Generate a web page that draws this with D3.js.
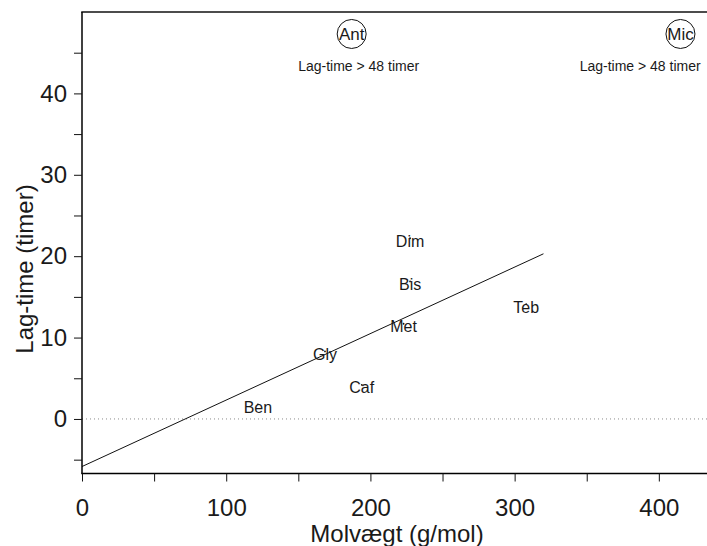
<!DOCTYPE html>
<html>
<head>
<meta charset="utf-8">
<script src="https://cdn.jsdelivr.net/npm/d3@7/dist/d3.min.js"></script>
<style>
  html, body { margin: 0; padding: 0; background: #fff; }
  svg { display: block; }
  text { font-family: "Liberation Sans", Arial, sans-serif; fill: #1a1a1a; }
</style>
</head>
<body>
<svg id="chart" width="707" height="546"></svg>
<script>
// Substances with measured lag-time (hours) versus molecular weight (g/mol)
const names = ["Ben", "Gly", "Caf", "Met", "Bis", "Dim", "Teb"];
const molWeights = [122, 168.5, 194, 223, 227.5, 227.5, 308];
const lagTimes = [1.8, 8.3, 4.2, 11.7, 16.9, 22.2, 14.1];

// Substances whose lag-time exceeded the 48 h test window
const censoredNames = ["Ant", "Mic"];
const censoredWeights = [187, 415];
const censoredNote = "Lag-time > 48 timer";
const censoredLevel = 47.3;

// Least-squares line through the measured substances, drawn from 0 to fitEnd
const fitEnd = 320;

const xTicks = [0, 100, 200, 300, 400];
const xMinorTicks = [50, 150, 250, 350];
const yTicks = [0, 10, 20, 30, 40];
const yMinorTicks = [-5, 5, 15, 25, 35, 45];

const svg = d3.select("#chart");
const plotLeft = 82, plotRight = 707, plotTop = 12, plotBottom = 473.5;

const x = d3.scaleLinear().domain([0, 433.4]).range([plotLeft, plotRight]);
const y = d3.scaleLinear().domain([-6.7, 50]).range([plotBottom, plotTop]);

// Ordinary least squares fit
const mx = d3.mean(molWeights), my = d3.mean(lagTimes);
const sxy = d3.sum(molWeights, (v, i) => (v - mx) * (lagTimes[i] - my));
const sxx = d3.sum(molWeights, v => (v - mx) * (v - mx));
const fitSlope = sxy / sxx;
const fitIntercept = my - fitSlope * mx;

// Reference line at zero lag
svg.append("line")
  .attr("x1", x(0)).attr("x2", plotRight)
  .attr("y1", y(0)).attr("y2", y(0))
  .attr("stroke", "#8a8a8a").attr("stroke-width", 1)
  .attr("stroke-dasharray", "1,3");

// Regression line
svg.append("line")
  .attr("x1", x(0)).attr("y1", y(fitIntercept))
  .attr("x2", x(fitEnd)).attr("y2", y(fitIntercept + fitSlope * fitEnd))
  .attr("stroke", "#111").attr("stroke-width", 1);

// Frame: top edge
svg.append("line")
  .attr("x1", plotLeft - 0.75).attr("x2", plotRight)
  .attr("y1", plotTop).attr("y2", plotTop)
  .attr("stroke", "#111").attr("stroke-width", 1.5);

// X axis
const xAxis = svg.append("g").attr("transform", `translate(0,${plotBottom})`);
xAxis.call(d3.axisBottom(x).tickValues(xTicks).tickSize(8).tickPadding(17).tickFormat(d3.format("d")));
xAxis.append("g").call(d3.axisBottom(x).tickValues(xMinorTicks).tickSize(8).tickFormat(""))
  .select(".domain").remove();
xAxis.select(".domain").attr("d", `M${plotLeft - 0.75},0H${plotRight}`).attr("stroke-width", 1.5);
xAxis.selectAll("line").attr("stroke", "#111");
xAxis.selectAll("text").attr("font-size", 24).attr("fill", "#1a1a1a")
  .style("font-family", "'Liberation Sans', Arial, sans-serif");

// Y axis
const yAxis = svg.append("g").attr("transform", `translate(${plotLeft},0)`);
yAxis.call(d3.axisLeft(y).tickValues(yTicks).tickSize(8).tickPadding(7).tickFormat(d3.format("d")));
yAxis.append("g").call(d3.axisLeft(y).tickValues(yMinorTicks).tickSize(8).tickFormat(""))
  .select(".domain").remove();
yAxis.select(".domain").attr("d", `M0,${plotTop}V${plotBottom}`).attr("stroke-width", 1.5);
yAxis.selectAll("line").attr("stroke", "#111");
yAxis.selectAll("text").attr("font-size", 24).attr("fill", "#1a1a1a")
  .style("font-family", "'Liberation Sans', Arial, sans-serif");

// Axis titles
svg.append("text")
  .attr("x", 397).attr("y", 542)
  .attr("text-anchor", "middle").attr("font-size", 24)
  .text("Molvægt (g/mol)");
svg.append("text")
  .attr("transform", "translate(33,269) rotate(-90)")
  .attr("text-anchor", "middle").attr("font-size", 24)
  .text("Lag-time (timer)");

// Data points with their labels
const pts = names.map((n, i) => ({ n, mw: molWeights[i], lag: lagTimes[i] }));
const g = svg.append("g");
g.selectAll("circle.pt").data(pts).enter().append("circle")
  .attr("class", "pt")
  .attr("cx", d => x(d.mw)).attr("cy", d => y(d.lag))
  .attr("r", 0.9).attr("fill", "#111");
g.selectAll("text.lbl").data(pts).enter().append("text")
  .attr("class", "lbl")
  .attr("x", d => x(d.mw)).attr("y", d => y(d.lag) + 8.5)
  .attr("text-anchor", "middle").attr("font-size", 16)
  .text(d => d.n);

// Substances beyond the test window
const cens = censoredNames.map((n, i) => ({ n, mw: censoredWeights[i] }));
const cg = svg.append("g");
cg.selectAll("circle").data(cens).enter().append("circle")
  .attr("cx", d => x(d.mw)).attr("cy", y(censoredLevel))
  .attr("r", 14.5).attr("fill", "none").attr("stroke", "#111").attr("stroke-width", 1);
cg.selectAll("text.cn").data(cens).enter().append("text")
  .attr("class", "cn")
  .attr("x", d => x(d.mw)).attr("y", y(censoredLevel) + 6)
  .attr("text-anchor", "middle").attr("font-size", 17)
  .text(d => d.n);
cg.selectAll("text.note").data(cens).enter().append("text")
  .attr("class", "note")
  .attr("x", d => x(d.mw) + 7).attr("y", y(censoredLevel) + 37)
  .attr("text-anchor", "middle").attr("font-size", 14)
  .text(censoredNote)
  .each(function () {
    // keep the note inside the plot area
    const b = this.getBBox();
    const over = b.x + b.width - (plotRight - 6);
    if (over > 0) d3.select(this).attr("x", +d3.select(this).attr("x") - over);
  });
</script>
</body>
</html>
